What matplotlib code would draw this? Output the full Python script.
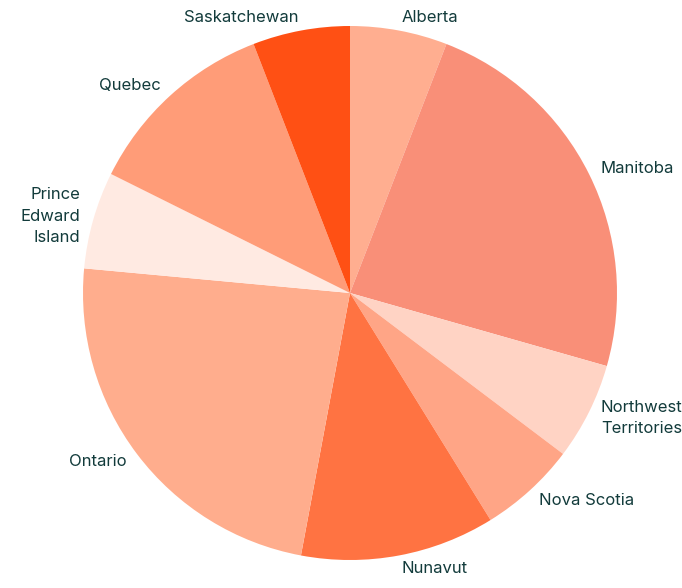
import numpy as np
import matplotlib
matplotlib.use("Agg")
import matplotlib.pyplot as plt

categories = ["Alberta", "Manitoba", "Northwest\nTerritories", "Nova Scotia", "Nunavut",
              "Ontario", "Prince\nEdward\nIsland", "Quebec", "Saskatchewan"]
values = [1, 4, 1, 1, 2, 4, 1, 2, 1]
colors = ["#FFAE90", "#F98F78", "#FFD3C4", "#FFA586", "#FF7342",
          "#FFAD8D", "#FFEAE2", "#FF9C78", "#FF5014"]

plt.rcParams['font.family'] = ['Inter', 'DejaVu Sans']

fig = plt.figure(figsize=(6.82, 5.88), dpi=100)
ax = fig.add_axes([0, 0, 1, 1])
ax.axis('off')

wedges, _ = ax.pie(values, colors=colors, startangle=90, counterclock=False,
                   radius=1.0, wedgeprops=dict(linewidth=0))

total = sum(values)
cum = np.cumsum([0] + values)
for i, lab in enumerate(categories):
    mid = (cum[i] + values[i] / 2) / total * 2 * np.pi
    r = 1.05
    x = r * np.sin(mid)
    y = r * np.cos(mid)
    ha = 'left' if x > 0 else 'right'
    ax.text(x, y, lab, ha=ha, va='center', multialignment=ha,
            fontsize=12, color="#123B3B", linespacing=1.55)

ax.set_xlim(-350 / 267, (682 - 350) / 267)
ax.set_ylim(-(588 - 293) / 267, 293 / 267)
ax.set_aspect('equal')

fig.savefig("out.png", dpi=100)
